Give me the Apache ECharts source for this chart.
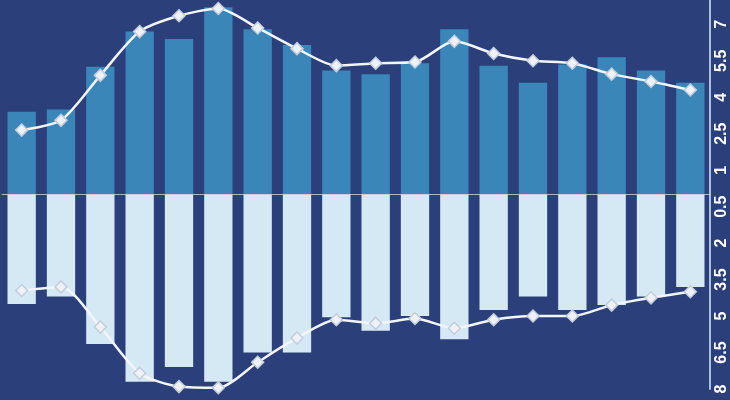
<!DOCTYPE html>
<html>
<head>
<meta charset="utf-8">
<script src="https://cdn.jsdelivr.net/npm/echarts@6/dist/echarts.min.js"></script>
<style>
html,body{margin:0;padding:0;background:#2b407a;}
#chart{width:730px;height:400px;}
</style>
</head>
<body>
<div id="chart"></div>
<script>
var categories = ['1','2','3','4','5','6','7','8','9','10','11','12','13','14','15','16','17','18'];
var upperBars = [3.4, 3.5, 5.25, 6.7, 6.4, 7.7, 6.8, 6.15, 5.1, 4.95, 5.4, 6.8, 5.3, 4.6, 5.35, 5.65, 5.1, 4.6];
var lowerBars = [-4.5, -4.2, -6.15, -7.7, -7.1, -7.7, -6.5, -6.5, -5.05, -5.6, -5.0, -5.95, -4.75, -4.2, -4.75, -4.55, -4.2, -3.8];
var upperLine = [2.65, 3.05, 4.9, 6.7, 7.35, 7.65, 6.85, 6.0, 5.3, 5.4, 5.45, 6.3, 5.8, 5.5, 5.4, 4.95, 4.65, 4.3];
var lowerLine = [-3.95, -3.8, -5.45, -7.35, -7.9, -7.95, -6.9, -5.9, -5.15, -5.3, -5.1, -5.5, -5.15, -5.0, -5.0, -4.55, -4.25, -4.0];

var chart = echarts.init(document.getElementById('chart'));
var lineStyle = {color: '#f2f5fa', width: 2.5};
var markerStyle = {color: '#eef2f8', borderColor: '#c3cddd', borderWidth: 1.5};
chart.setOption({
  backgroundColor: '#2b407a',
  animation: false,
  grid: {left: 2, right: 20, top: 0, bottom: 11},
  xAxis: {
    type: 'category',
    data: categories,
    axisLine: {show: true, onZero: true, lineStyle: {color: 'rgba(225,230,240,0.7)', width: 1}},
    axisTick: {show: false},
    axisLabel: {show: false},
    splitLine: {show: false},
    z: 5
  },
  yAxis: {
    type: 'value',
    position: 'right',
    min: -8,
    max: 8,
    interval: 1.5,
    axisLine: {show: true, lineStyle: {color: '#a9c1de', width: 2}},
    axisTick: {show: false},
    splitLine: {show: false},
    axisLabel: {
      show: true,
      rotate: 90,
      margin: 4,
      color: '#ffffff',
      fontSize: 16,
      fontWeight: 'bold',
      fontFamily: 'Liberation Sans, Arial, sans-serif',
      showMaxLabel: false,
      formatter: function (v) { return String(Math.abs(Math.round(v * 10) / 10)); }
    }
  },
  series: [
    {type: 'bar', data: upperBars, barWidth: '72%', barGap: '-100%', itemStyle: {color: '#3a86b9'}},
    {type: 'bar', data: lowerBars, barWidth: '72%', barGap: '-100%', itemStyle: {color: '#d5e9f5'}},
    {type: 'line', data: upperLine, smooth: 0.25, symbol: 'diamond', symbolSize: 12, lineStyle: lineStyle, itemStyle: markerStyle, z: 10},
    {type: 'line', data: lowerLine, smooth: 0.25, symbol: 'diamond', symbolSize: 12, lineStyle: lineStyle, itemStyle: markerStyle, z: 10}
  ]
});
</script>
</body>
</html>
